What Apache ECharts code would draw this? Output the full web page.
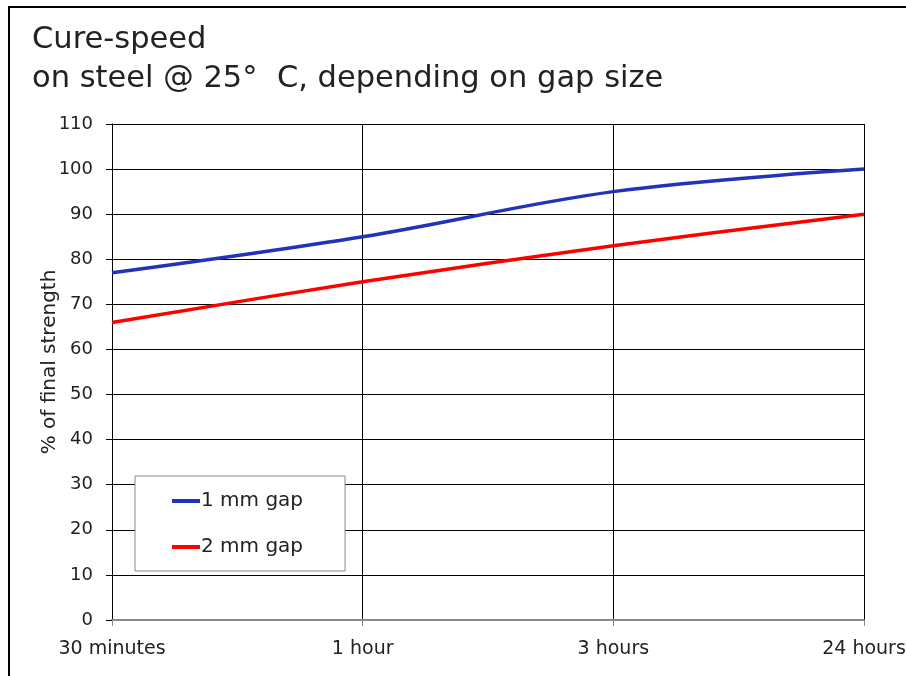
<!DOCTYPE html>
<html>
<head>
<meta charset="utf-8">
<script src="https://cdn.jsdelivr.net/npm/echarts@6/dist/echarts.min.js"></script>
<style>
    html, body { margin: 0; padding: 0; background: #fff; }
    #main { width: 906px; height: 676px; }
</style>
</head>
<body>
<div id="main"></div>
<script>
let categories = ['30 minutes', '1 hour', '3 hours', '24 hours'];
let gap1mm = [77, 85, 95, 100];
let gap2mm = [66, 75, 83, 90];
let seriesNames = ['1 mm gap', '2 mm gap'];

let font = '"DejaVu Sans", sans-serif';
let chart = echarts.init(document.getElementById('main'));

let option = {
    backgroundColor: '#fff',
    animation: false,
    title: {
        text: 'Cure-speed\non steel @ 25°  C, depending on gap size',
        left: 27,
        top: 16,
        textStyle: {
            fontFamily: font,
            fontSize: 30.5,
            fontWeight: 'normal',
            color: '#222',
            lineHeight: 39
        }
    },
    graphic: [
        {
            type: 'rect',
            shape: { x: 9, y: 7, width: 1000, height: 1000 },
            style: { fill: 'none', stroke: '#000', lineWidth: 2 },
            z: 100
        }
    ],
    legend: {
        data: seriesNames.map(n => ({ name: n, icon: 'rect' })),
        orient: 'vertical',
        left: 135,
        top: 476,
        itemWidth: 28,
        itemHeight: 4,
        itemGap: 26,
        padding: [15, 42, 14, 37],
        backgroundColor: '#fff',
        borderColor: '#888',
        borderWidth: 1,
        textStyle: {
            fontFamily: font,
            fontSize: 20,
            color: '#222',
            padding: [0, 0, 0, -4]
        }
    },
    grid: {
        left: 112,
        right: 42,
        top: 124,
        bottom: 56,
        outerBoundsMode: 'none'
    },
    xAxis: {
        type: 'category',
        boundaryGap: false,
        data: categories,
        axisLine: { lineStyle: { color: '#888', width: 2 } },
        axisTick: { show: true, length: 6, lineStyle: { color: '#888' } },
        axisLabel: {
            fontFamily: font,
            fontSize: 19,
            color: '#222',
            margin: 20
        },
        splitLine: { show: true, lineStyle: { color: '#000', width: 1 } }
    },
    yAxis: {
        type: 'value',
        min: 0,
        max: 110,
        interval: 10,
        name: '% of final strength',
        nameLocation: 'middle',
        nameGap: 52,
        nameMoveOverlap: false,
        nameTextStyle: {
            fontFamily: font,
            fontSize: 20,
            color: '#222',
            padding: [0, 0, 0, 20]
        },
        axisLine: { show: true, lineStyle: { color: '#000', width: 1 } },
        axisTick: { show: true, length: 6, lineStyle: { color: '#000' } },
        axisLabel: {
            fontFamily: font,
            fontSize: 18,
            color: '#222',
            margin: 19
        },
        splitLine: { show: true, lineStyle: { color: '#000', width: 1 } }
    },
    series: [
        {
            name: seriesNames[0],
            type: 'line',
            data: gap1mm,
            smooth: 0.35,
            symbol: 'none',
            lineStyle: { color: '#2233bb', width: 3.5 },
            itemStyle: { color: '#2233bb' },
            z: 5
        },
        {
            name: seriesNames[1],
            type: 'line',
            data: gap2mm,
            smooth: 0.35,
            symbol: 'none',
            lineStyle: { color: '#ff0000', width: 3.5 },
            itemStyle: { color: '#ff0000' },
            z: 5
        }
    ]
};
chart.setOption(option);
</script>
</body>
</html>
